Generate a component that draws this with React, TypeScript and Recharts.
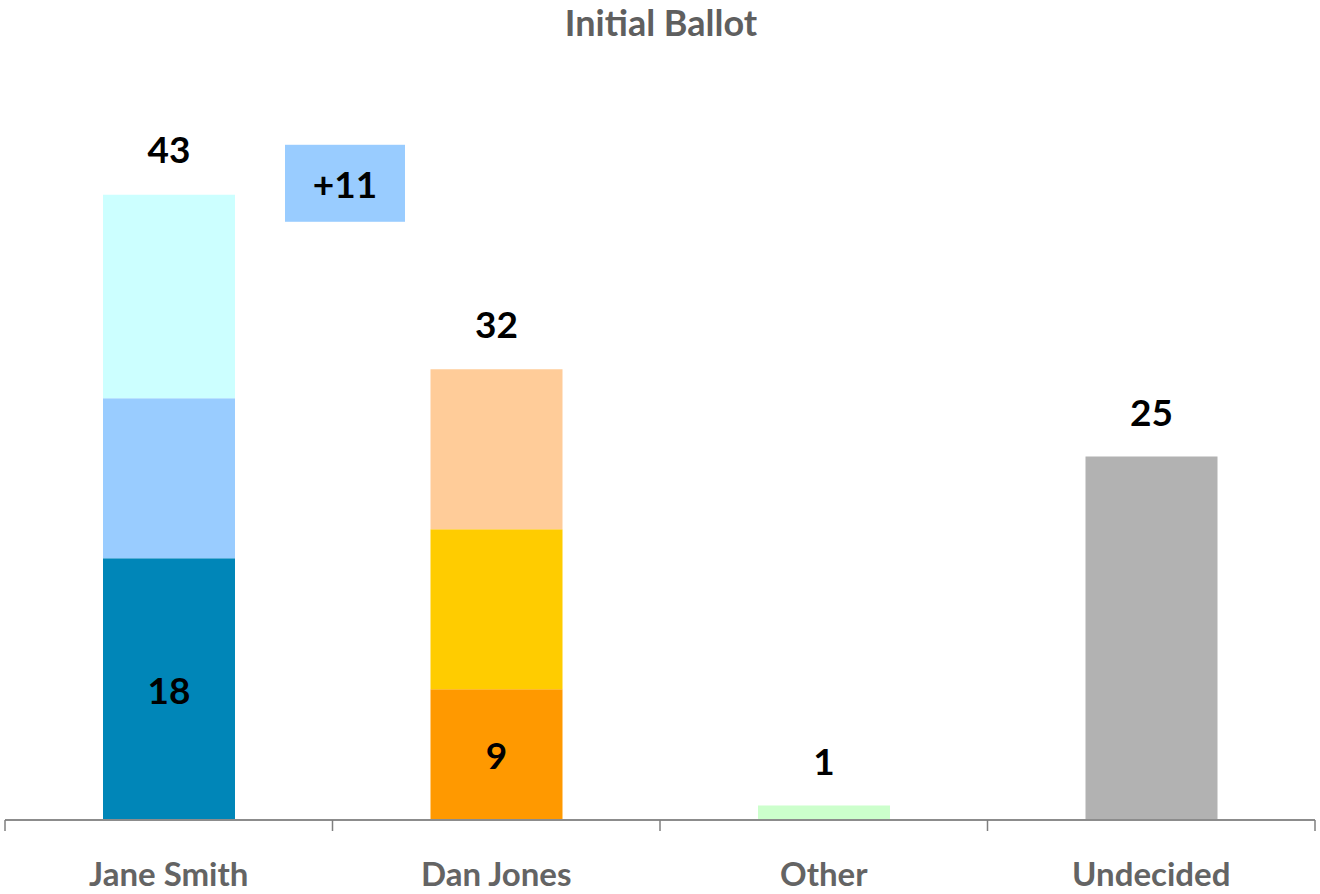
import React from 'react';
import { BarChart, Bar, XAxis, YAxis, Cell, LabelList } from 'recharts';

const categories = ['Jane Smith', 'Dan Jones', 'Other', 'Undecided'];
const baseValues = [18, 9, 1, 25];
const midValues = [11, 11, 0, 0];
const topValues = [14, 11, 0, 0];
const totalLabels = [43, 32, 1, 25];
const baseColors = ['#0086B8', '#FF9900', '#CCFFCC', '#B2B2B2'];
const midColors = ['#99CCFF', '#FFCC00', '#FFFFFF', '#FFFFFF'];
const topColors = ['#CCFFFF', '#FFCC99', '#FFFFFF', '#FFFFFF'];
const title = 'Initial Ballot';

const data = categories.map((name, i) => ({
  name,
  base: baseValues[i],
  mid: midValues[i],
  top: topValues[i],
}));

const leadValue = totalLabels[0] - totalLabels[1];

const W = 1320;
const H = 894;
const M = { top: 93, right: 5, left: 5, bottom: 0 };
const band = (W - M.left - M.right) / categories.length;
const FONT = 'Lato, "Open Sans", sans-serif';

const Tick = (props: any) => {
  const { x, y, payload, index } = props;
  const half = band / 2;
  return (
    <g>
      <line x1={x - half} y1={y - 8} x2={x - half} y2={y + 3} stroke="#7F7F7F" strokeWidth={1.5} />
      {index === categories.length - 1 && (
        <line x1={x + half} y1={y - 8} x2={x + half} y2={y + 3} stroke="#7F7F7F" strokeWidth={1.5} />
      )}
      <text
        x={x}
        y={y + 58}
        textAnchor="middle"
        fill="#646464"
        fontFamily={FONT}
        fontWeight={700}
        fontSize={33}
      >
        {payload.value}
      </text>
    </g>
  );
};

const numStyle = {
  fontFamily: FONT,
  fontWeight: 700,
  fontSize: 37,
  fill: '#000000',
};

const BaseLabel = (props: any) => {
  const { x, y, width, height, index, value } = props;
  const stacked = midValues[index] > 0;
  const cy = stacked ? y + height / 2 : y - 45;
  return (
    <text x={x + width / 2} y={cy} textAnchor="middle" dominantBaseline="central" {...numStyle}>
      {stacked ? value : totalLabels[index]}
    </text>
  );
};

const TopLabel = (props: any) => {
  const { x, y, width, index } = props;
  if (topValues[index] <= 0) return null;
  return (
    <g>
      <text x={x + width / 2} y={y - 46} textAnchor="middle" dominantBaseline="central" {...numStyle}>
        {totalLabels[index]}
      </text>
      {index === 0 && (
        <g>
          <rect x={x + width + 50} y={y - 50} width={120} height={77} fill="#99CCFF" />
          <text
            x={x + width + 110}
            y={y - 11}
            textAnchor="middle"
            dominantBaseline="central"
            {...numStyle}
          >
            {`+${leadValue}`}
          </text>
        </g>
      )}
    </g>
  );
};

export default function App() {
  return (
    <div style={{ position: 'absolute', left: 0, top: 0, width: W, height: H, background: '#fff' }}>
      <svg
        width={W}
        height={50}
        style={{ position: 'absolute', left: 0, top: 0 }}
      >
        <text
          x={661}
          y={36}
          textAnchor="middle"
          fill="#5F5F5F"
          fontFamily={FONT}
          fontWeight={700}
          fontSize={36}
        >
          {title}
        </text>
      </svg>
      <BarChart width={W} height={H} data={data} margin={M}>
        <XAxis
          dataKey="name"
          height={74}
          axisLine={{ stroke: '#8C8C8C', strokeWidth: 2 }}
          tickLine={false}
          tick={<Tick />}
          interval={0}
        />
        <YAxis hide domain={[0, 50]} />
        <Bar dataKey="base" stackId="a" barSize={132} isAnimationActive={false}>
          {data.map((d, i) => (
            <Cell key={d.name} fill={baseColors[i]} />
          ))}
          <LabelList dataKey="base" content={<BaseLabel />} />
        </Bar>
        <Bar dataKey="mid" stackId="a" barSize={132} isAnimationActive={false}>
          {data.map((d, i) => (
            <Cell key={d.name} fill={midColors[i]} />
          ))}
        </Bar>
        <Bar dataKey="top" stackId="a" barSize={132} isAnimationActive={false}>
          {data.map((d, i) => (
            <Cell key={d.name} fill={topColors[i]} />
          ))}
          <LabelList dataKey="top" content={<TopLabel />} />
        </Bar>
      </BarChart>
    </div>
  );
}
